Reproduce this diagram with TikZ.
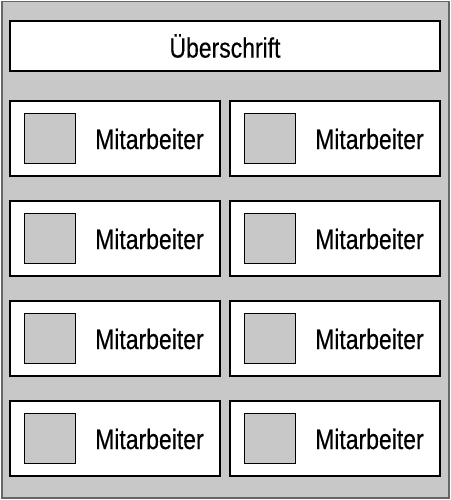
\documentclass[tikz,border=0pt]{standalone}
\usepackage{fontspec}
\setmainfont{Liberation Sans}[FakeStretch=0.82,FakeBold=0.4]
\begin{document}
\begin{tikzpicture}[x=1pt,y=-1pt,
  frame/.style={draw=gray!80!black,fill=bggray,line width=1.5pt},
  card/.style={draw=black,fill=white,line width=1.6pt,minimum width=210pt,minimum height=75pt,inner sep=0pt,outer sep=0pt},
  sq/.style={draw=black,fill=bggray,line width=1.4pt,minimum width=51pt,minimum height=50pt,inner sep=0pt},
  lbl/.style={font=\fontsize{28}{30}\selectfont,inner sep=0pt,anchor=west}]
\definecolor{bggray}{RGB}{200,200,200}
\useasboundingbox (0,0) rectangle (450,500);
\node[frame,minimum width=447pt,minimum height=496pt,inner sep=0pt,anchor=north west] (bg) at (1,1) {};
\node[card,minimum width=430pt,minimum height=50pt,anchor=north west] (head) at (10,21) {};
\node[font=\fontsize{28}{30}\selectfont,inner sep=0pt] (headtxt) at (head.center) {Überschrift};
\foreach \r/\y in {1/101,2/201,3/301,4/401}{
  \foreach \c/\x in {1/10,2/230}{
    \node[card,anchor=north west] (c\r\c) at (\x,\y) {};
    \node[sq,anchor=north west] (s\r\c) at (\x+14,\y+12) {};
    \node[lbl] (t\r\c) at (\x+85,\y+38) {Mitarbeiter};
  }
}
\end{tikzpicture}
\end{document}
